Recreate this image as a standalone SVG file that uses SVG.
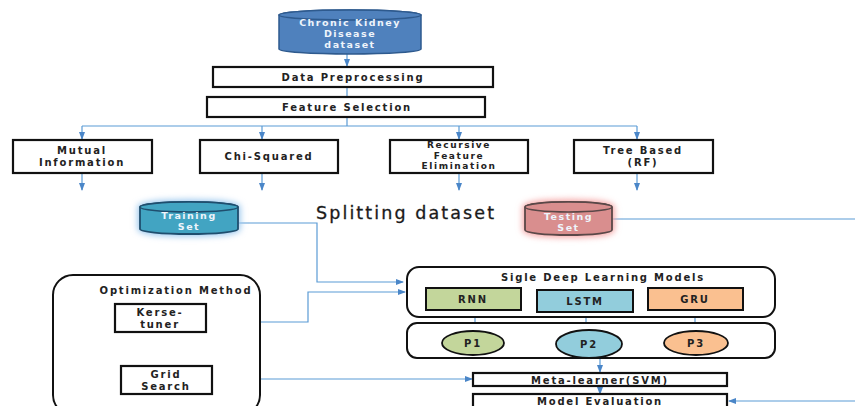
<svg xmlns="http://www.w3.org/2000/svg" width="855" height="406" viewBox="0 0 855 406">
<defs>
<marker id="ah" markerWidth="8" markerHeight="6" refX="7" refY="3" orient="auto" markerUnits="userSpaceOnUse">
<path d="M0,0 L8,3 L0,6 Z" fill="#4a86c8"/>
</marker>
<filter id="glowB" x="-30%" y="-40%" width="160%" height="180%">
<feGaussianBlur stdDeviation="3"/>
</filter>
<style>
.box{fill:#fff;stroke:#111;stroke-width:2.2}
.rbox{fill:#fff;stroke:#111;stroke-width:2}
.t{font-family:"DejaVu Sans",sans-serif;font-weight:bold;font-size:10px;fill:#222;text-anchor:middle;letter-spacing:1.8px}
.s{font-size:9px;letter-spacing:1.6px}
.tw{font-family:"DejaVu Sans",sans-serif;font-weight:bold;font-size:9.5px;fill:#eef4fb;text-anchor:middle;letter-spacing:1.5px}
.c{fill:none;stroke:#5b9bd5;stroke-width:1.2}
.ca{fill:none;stroke:#5b9bd5;stroke-width:1.2;marker-end:url(#ah)}
</style>
</defs>
<rect width="855" height="406" fill="#fff"/>

<g id="connectors">
<path class="ca" d="M347,53 V66"/>
<path class="c" d="M347,87 V97"/>
<path class="c" d="M347,117 V126 M82,126 H637"/>
<path class="ca" d="M82,126 V139"/>
<path class="ca" d="M262,126 V139"/>
<path class="ca" d="M459,126 V139"/>
<path class="ca" d="M637,126 V139"/>
<path class="ca" d="M82,173 V190"/>
<path class="ca" d="M262,173 V190"/>
<path class="ca" d="M459,173 V190"/>
<path class="ca" d="M637,173 V190"/>
<path class="ca" d="M238,223 H317 V282 H403"/>
<path class="ca" d="M207,322 H308 V292 H405"/>
<path class="c" d="M612,219 H855"/>
<path class="ca" d="M475,310 V331"/>
<path class="ca" d="M586,312 V331"/>
<path class="ca" d="M695,310 V331"/>
<path class="ca" d="M600,358 V372"/>
<path class="ca" d="M600,386 V394"/>
<path class="ca" d="M212,379 H472"/>
<path class="ca" d="M855,401 H729"/>
</g>

<g id="ckd">
<path d="M279,15 A71,5 0 0 1 421,15 V49 A71,5 0 0 1 279,49 Z" fill="#4f81bd" stroke="#2e5a8e" stroke-width="1.5"/>
<ellipse cx="350" cy="15" rx="71" ry="5" fill="#4f81bd" stroke="#2e5a8e" stroke-width="1.5"/>
<text class="tw" x="350" y="26">Chronic Kidney</text>
<text class="tw" x="350" y="37">Disease</text>
<text class="tw" x="350" y="48">dataset</text>
</g>

<g id="preprocessing">
<rect class="box" x="213" y="67" width="280" height="20"/>
<text class="t" x="353" y="81">Data Preprocessing</text>
</g>

<g id="feature-selection">
<rect class="box" x="207" y="97" width="278" height="20"/>
<text class="t" x="347" y="111">Feature Selection</text>
</g>

<g id="mutual-information">
<rect class="box" x="13" y="140" width="139" height="33"/>
<text class="t" x="82" y="154">Mutual</text>
<text class="t" x="82" y="166">Information</text>
</g>

<g id="chi-squared">
<rect class="box" x="200" y="140" width="138" height="33"/>
<text class="t" x="269" y="160">Chi-Squared</text>
</g>

<g id="rfe">
<rect class="box" x="390" y="140" width="138" height="33"/>
<text class="t s" x="459" y="148">Recursive</text>
<text class="t s" x="459" y="158.5">Feature</text>
<text class="t s" x="459" y="169">Elimination</text>
</g>

<g id="tree-based">
<rect class="box" x="574" y="140" width="139" height="33"/>
<text class="t" x="643" y="154">Tree Based</text>
<text class="t" x="643" y="166">(RF)</text>
</g>

<g id="training-set">
<path d="M140,207 A49,5 0 0 1 238,207 V229 A49,5 0 0 1 140,229 Z" fill="#9cc8ee" stroke="#9cc8ee" stroke-width="5" filter="url(#glowB)"/>
<path d="M140,207 A49,5 0 0 1 238,207 V229 A49,5 0 0 1 140,229 Z" fill="#42a4c2" stroke="#1f4e6e" stroke-width="1.8"/>
<ellipse cx="189" cy="207" rx="49" ry="5" fill="#42a4c2" stroke="#1f4e6e" stroke-width="1.5"/>
<text class="tw" x="189" y="219">Training</text>
<text class="tw" x="189" y="230">Set</text>
</g>

<g id="splitting-label">
<text x="316" y="219" font-family="DejaVu Sans, sans-serif" font-size="17.5px" fill="#1a1a1a" letter-spacing="2.1" stroke="#1a1a1a" stroke-width="0.3">Splitting dataset</text>
</g>

<g id="testing-set">
<path d="M525,207 A43.5,5 0 0 1 612,207 V230 A43.5,5 0 0 1 525,230 Z" fill="#f5a3a3" stroke="#f5a3a3" stroke-width="5" filter="url(#glowB)"/>
<path d="M525,207 A43.5,5 0 0 1 612,207 V230 A43.5,5 0 0 1 525,230 Z" fill="#d98e8e" stroke="#5a4848" stroke-width="1.8"/>
<ellipse cx="568.5" cy="207" rx="43.5" ry="5" fill="#d98e8e" stroke="#5a4848" stroke-width="1.5"/>
<text class="tw" x="568.5" y="220">Testing</text>
<text class="tw" x="568.5" y="231">Set</text>
</g>

<g id="optimization-method">
<rect class="rbox" x="53" y="275" width="207" height="140" rx="20"/>
<text class="t" x="176" y="294">Optimization Method</text>
</g>

<g id="kerse-tuner">
<rect class="box" x="115" y="304" width="91" height="28"/>
<text class="t" x="160" y="316">Kerse-</text>
<text class="t" x="160" y="328">tuner</text>
</g>

<g id="grid-search">
<rect class="box" x="121" y="366" width="91" height="28"/>
<text class="t" x="166" y="378">Grid</text>
<text class="t" x="166" y="390">Search</text>
</g>

<g id="single-models">
<rect class="rbox" x="407" y="267" width="368" height="50" rx="12"/>
<text class="t" x="603" y="281">Sigle Deep Learning Models</text>
</g>

<g id="rnn">
<rect x="426" y="288" width="95" height="22" fill="#c3d69b" stroke="#111" stroke-width="2"/>
<text class="t" x="473" y="303">RNN</text>
</g>

<g id="lstm">
<rect x="537" y="290" width="96" height="22" fill="#92cddc" stroke="#111" stroke-width="2"/>
<text class="t" x="585" y="305">LSTM</text>
</g>

<g id="gru">
<rect x="648" y="288" width="95" height="22" fill="#fac090" stroke="#111" stroke-width="2"/>
<text class="t" x="695" y="303">GRU</text>
</g>

<g id="predictions">
<rect class="rbox" x="407" y="323" width="368" height="35" rx="10"/>
</g>

<g id="p1">
<ellipse cx="473" cy="343" rx="31" ry="12" fill="#c3d69b" stroke="#111" stroke-width="1.8"/>
<text class="t" x="473" y="347">P1</text>
</g>

<g id="p2">
<ellipse cx="589" cy="344" rx="33" ry="14" fill="#92cddc" stroke="#111" stroke-width="1.8"/>
<text class="t" x="589" y="348">P2</text>
</g>

<g id="p3">
<ellipse cx="696" cy="343" rx="32" ry="12" fill="#fac090" stroke="#111" stroke-width="1.8"/>
<text class="t" x="696" y="347">P3</text>
</g>

<g id="meta-learner">
<rect class="box" x="473" y="373" width="254" height="13"/>
<text class="t" x="600" y="384">Meta-learner(SVM)</text>
</g>

<g id="model-evaluation">
<rect class="box" x="473" y="394" width="254" height="20"/>
<text class="t" x="600" y="405">Model Evaluation</text>
</g>
</svg>
